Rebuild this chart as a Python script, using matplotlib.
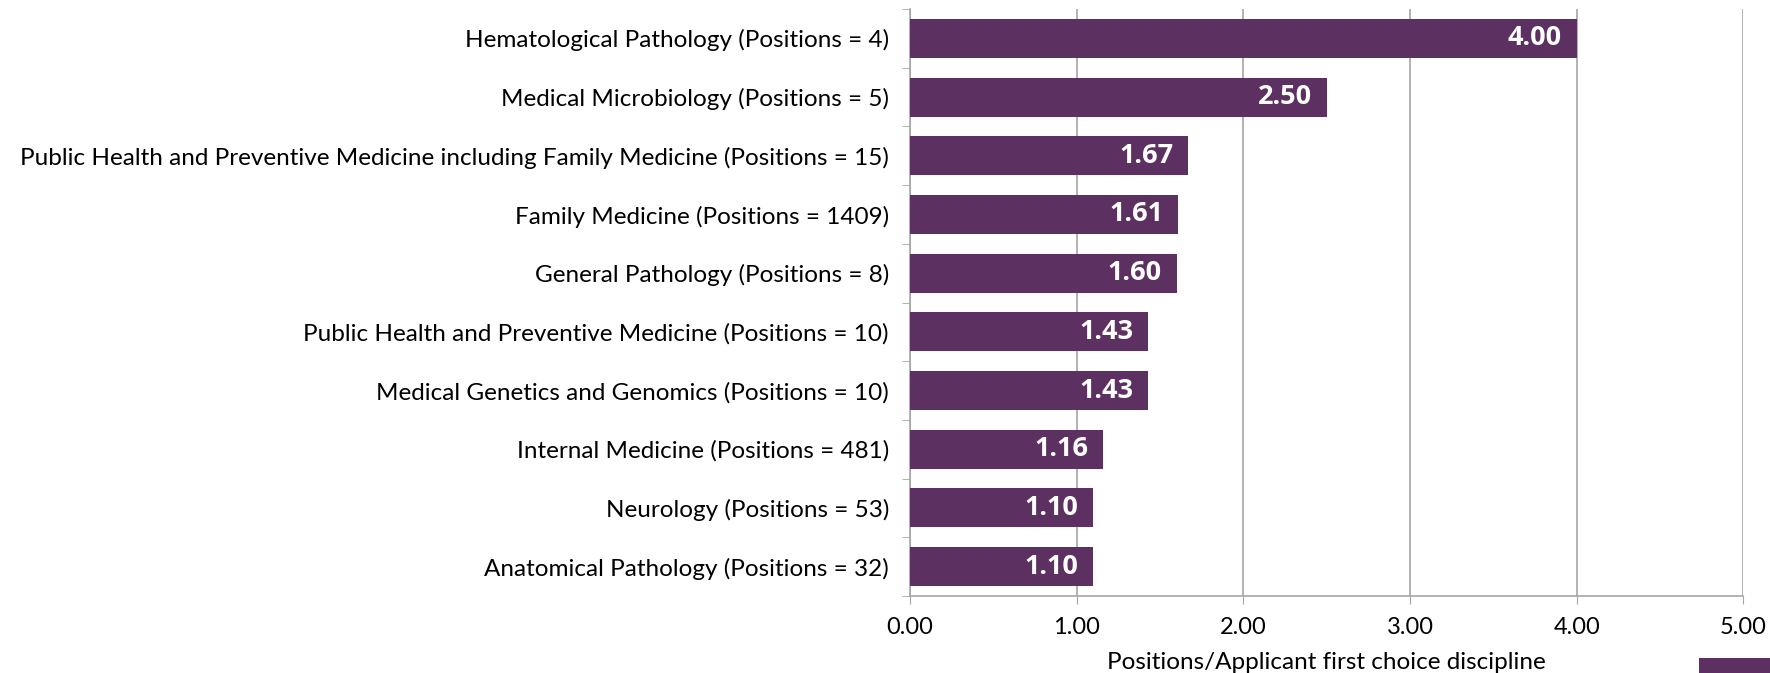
import matplotlib
matplotlib.use("Agg")
import matplotlib.pyplot as plt
from matplotlib.patches import Rectangle
import numpy as np

plt.rcParams['font.family'] = ['Lato', 'DejaVu Sans']

disciplines = [
    "Hematological Pathology (Positions = 4)",
    "Medical Microbiology (Positions = 5)",
    "Public Health and Preventive Medicine including Family Medicine (Positions = 15)",
    "Family Medicine (Positions = 1409)",
    "General Pathology (Positions = 8)",
    "Public Health and Preventive Medicine (Positions = 10)",
    "Medical Genetics and Genomics (Positions = 10)",
    "Internal Medicine (Positions = 481)",
    "Neurology (Positions = 53)",
    "Anatomical Pathology (Positions = 32)",
]
ratios = [4.00, 2.50, 1.67, 1.61, 1.60, 1.43, 1.43, 1.16, 1.10, 1.10]
x_ticks = [0, 1, 2, 3, 4, 5]

bar_color = '#5c3060'
grid_color = '#a6a6a6'

fig = plt.figure(figsize=(17.7, 6.73), dpi=100)
ax = fig.add_axes([0.514, 0.1144, 0.471, 0.8722])

y = np.arange(len(disciplines))
bars = ax.barh(y, ratios, height=0.665, color=bar_color, zorder=3)
ax.set_ylim(len(disciplines) - 0.5, -0.5)
ax.set_xlim(0, 5)

for rect, v in zip(bars, ratios):
    ax.text(rect.get_width() - 0.09, rect.get_y() + rect.get_height() / 2,
            f"{v:.2f}", ha='right', va='center', color='white',
            fontsize=19.5, fontweight='bold', family=['Open Sans', 'DejaVu Sans'],
            zorder=4)

ax.set_yticks(y)
ax.set_yticklabels(disciplines, fontsize=17.5)
ax.set_yticks(np.arange(len(disciplines) + 1) - 0.5, minor=True)
ax.tick_params(axis='y', which='major', length=0, pad=15)
ax.tick_params(axis='y', which='minor', length=6, color=grid_color, direction='out')

ax.set_xticks(x_ticks)
ax.set_xticklabels([f"{t:.2f}" for t in x_ticks], fontsize=17)
ax.tick_params(axis='x', length=6, color=grid_color, direction='out', pad=9)
ax.set_xlabel("Positions/Applicant first choice discipline", fontsize=17.5, labelpad=10)

ax.grid(axis='x', color=grid_color, linewidth=1.2, zorder=0)
for side in ['top', 'right']:
    ax.spines[side].set_visible(False)
for side in ['left', 'bottom']:
    ax.spines[side].set_color(grid_color)
    ax.spines[side].set_linewidth(1.2)

# legend swatch cut off at the bottom right corner
fig.patches.append(Rectangle((0.96, 0.0), 0.05, 0.023, transform=fig.transFigure,
                             facecolor=bar_color, edgecolor='none'))

fig.savefig("out.png", dpi=100)
